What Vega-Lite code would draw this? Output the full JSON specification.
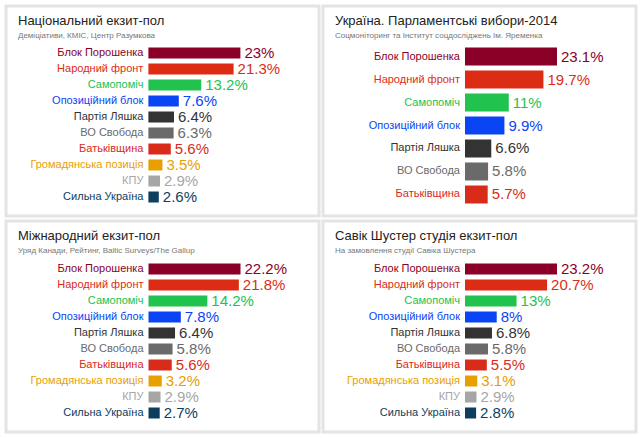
{
  "$schema": "https://vega.github.io/schema/vega-lite/v6.json",
  "background": "white",
  "padding": {"left": 4, "top": 4, "right": 0, "bottom": 0},
  "spacing": 1,
  "config": {
    "view": {"stroke": "#e4e4e4", "strokeWidth": 3},
    "font": "Liberation Sans",
    "title": {"anchor": "start", "frame": "group", "font": "Liberation Sans", "fontSize": 13, "fontWeight": "normal", "color": "#222222", "subtitleFont": "Liberation Sans", "subtitleFontSize": 8, "subtitleColor": "#777777", "subtitlePadding": 4, "offset": -34, "dx": 12}
  },
  "datasets": {
    "nat": [
      {"party": "Блок Порошенка", "share": 0.23},
      {"party": "Народний фронт", "share": 0.213},
      {"party": "Самопоміч", "share": 0.132},
      {"party": "Опозиційний блок", "share": 0.076},
      {"party": "Партія Ляшка", "share": 0.064},
      {"party": "ВО Свобода", "share": 0.063},
      {"party": "Батьківщина", "share": 0.056},
      {"party": "Громадянська позиція", "share": 0.035},
      {"party": "КПУ", "share": 0.029},
      {"party": "Сильна Україна", "share": 0.026}
    ],
    "ua": [
      {"party": "Блок Порошенка", "share": 0.231},
      {"party": "Народний фронт", "share": 0.197},
      {"party": "Самопоміч", "share": 0.11},
      {"party": "Опозиційний блок", "share": 0.099},
      {"party": "Партія Ляшка", "share": 0.066},
      {"party": "ВО Свобода", "share": 0.058},
      {"party": "Батьківщина", "share": 0.057}
    ],
    "intl": [
      {"party": "Блок Порошенка", "share": 0.222},
      {"party": "Народний фронт", "share": 0.218},
      {"party": "Самопоміч", "share": 0.142},
      {"party": "Опозиційний блок", "share": 0.078},
      {"party": "Партія Ляшка", "share": 0.064},
      {"party": "ВО Свобода", "share": 0.058},
      {"party": "Батьківщина", "share": 0.056},
      {"party": "Громадянська позиція", "share": 0.032},
      {"party": "КПУ", "share": 0.029},
      {"party": "Сильна Україна", "share": 0.027}
    ],
    "shuster": [
      {"party": "Блок Порошенка", "share": 0.232},
      {"party": "Народний фронт", "share": 0.207},
      {"party": "Самопоміч", "share": 0.13},
      {"party": "Опозиційний блок", "share": 0.08},
      {"party": "Партія Ляшка", "share": 0.068},
      {"party": "ВО Свобода", "share": 0.058},
      {"party": "Батьківщина", "share": 0.055},
      {"party": "Громадянська позиція", "share": 0.031},
      {"party": "КПУ", "share": 0.029},
      {"party": "Сильна Україна", "share": 0.028}
    ]
  },
  "vconcat": [
    {
      "hconcat": [
        {
          "width": 313,
          "height": 210,
          "title": {"text": "Національний екзит-пол", "subtitle": "Деміціативи, КМІС, Центр Разумкова"},
          "data": {"name": "nat"},
          "encoding": {
            "y": {"field": "party", "type": "nominal", "sort": null, "axis": null, "scale": {"range": [41.5, 196.5], "paddingInner": 0.3125, "paddingOuter": 0}},
            "color": {"field": "party", "type": "nominal", "legend": null, "scale": {"domain": ["Блок Порошенка", "Народний фронт", "Самопоміч", "Опозиційний блок", "Партія Ляшка", "ВО Свобода", "Батьківщина", "Громадянська позиція", "КПУ", "Сильна Україна"], "range": ["#8b0026", "#dc2d14", "#22c24e", "#0a45f5", "#333333", "#6a6a6a", "#d92b1a", "#e8a000", "#a6a6a6", "#0d3e5e"]}}
          },
          "layer": [
            {"mark": {"type": "bar"}, "encoding": {"x": {"field": "share", "type": "quantitative", "axis": null, "scale": {"domain": [-0.356, 0.4265], "nice": false, "zero": false}}, "x2": {"datum": 0}}},
            {"mark": {"type": "text", "align": "left", "baseline": "middle", "dx": 4, "fontSize": 15}, "encoding": {"x": {"field": "share", "type": "quantitative"}, "text": {"field": "share", "type": "quantitative", "format": "~%"}}},
            {"mark": {"type": "text", "align": "right", "baseline": "middle", "dx": -5, "fontSize": 11}, "encoding": {"x": {"datum": 0}, "text": {"field": "party"}}}
          ]
        },
        {
          "width": 313,
          "height": 210,
          "title": {"text": "Україна. Парламентські вибори-2014", "subtitle": "Соцмоніторинг та Інститут соцдосліджень Ім. Яременка"},
          "data": {"name": "ua"},
          "encoding": {
            "y": {"field": "party", "type": "nominal", "sort": null, "axis": null, "scale": {"range": [41.5, 197.5], "paddingInner": 0.217, "paddingOuter": 0}},
            "color": {"field": "party", "type": "nominal", "legend": null, "scale": {"domain": ["Блок Порошенка", "Народний фронт", "Самопоміч", "Опозиційний блок", "Партія Ляшка", "ВО Свобода", "Батьківщина", "Громадянська позиція", "КПУ", "Сильна Україна"], "range": ["#8b0026", "#dc2d14", "#22c24e", "#0a45f5", "#333333", "#6a6a6a", "#d92b1a", "#e8a000", "#a6a6a6", "#0d3e5e"]}}
          },
          "layer": [
            {"mark": {"type": "bar"}, "encoding": {"x": {"field": "share", "type": "quantitative", "axis": null, "scale": {"domain": [-0.3565, 0.4294], "nice": false, "zero": false}}, "x2": {"datum": 0}}},
            {"mark": {"type": "text", "align": "left", "baseline": "middle", "dx": 4, "fontSize": 15}, "encoding": {"x": {"field": "share", "type": "quantitative"}, "text": {"field": "share", "type": "quantitative", "format": "~%"}}},
            {"mark": {"type": "text", "align": "right", "baseline": "middle", "dx": -5, "fontSize": 11}, "encoding": {"x": {"datum": 0}, "text": {"field": "party"}}}
          ]
        }
      ],
      "spacing": 0
    },
    {
      "hconcat": [
        {
          "width": 313,
          "height": 211,
          "title": {"text": "Міжнародний екзит-пол", "subtitle": "Уряд Канади, Рейтинг, Baltic Surveys/The Gallup"},
          "data": {"name": "intl"},
          "encoding": {
            "y": {"field": "party", "type": "nominal", "sort": null, "axis": null, "scale": {"range": [42.5, 197.5], "paddingInner": 0.3125, "paddingOuter": 0}},
            "color": {"field": "party", "type": "nominal", "legend": null, "scale": {"domain": ["Блок Порошенка", "Народний фронт", "Самопоміч", "Опозиційний блок", "Партія Ляшка", "ВО Свобода", "Батьківщина", "Громадянська позиція", "КПУ", "Сильна Україна"], "range": ["#8b0026", "#dc2d14", "#22c24e", "#0a45f5", "#333333", "#6a6a6a", "#d92b1a", "#e8a000", "#a6a6a6", "#0d3e5e"]}}
          },
          "layer": [
            {"mark": {"type": "bar"}, "encoding": {"x": {"field": "share", "type": "quantitative", "axis": null, "scale": {"domain": [-0.3439, 0.4114], "nice": false, "zero": false}}, "x2": {"datum": 0}}},
            {"mark": {"type": "text", "align": "left", "baseline": "middle", "dx": 4, "fontSize": 15}, "encoding": {"x": {"field": "share", "type": "quantitative"}, "text": {"field": "share", "type": "quantitative", "format": "~%"}}},
            {"mark": {"type": "text", "align": "right", "baseline": "middle", "dx": -5, "fontSize": 11}, "encoding": {"x": {"datum": 0}, "text": {"field": "party"}}}
          ]
        },
        {
          "width": 313,
          "height": 211,
          "title": {"text": "Савік Шустер студія екзит-пол", "subtitle": "На замовлення студії Савіка Шустера"},
          "data": {"name": "shuster"},
          "encoding": {
            "y": {"field": "party", "type": "nominal", "sort": null, "axis": null, "scale": {"range": [42.5, 197.5], "paddingInner": 0.3125, "paddingOuter": 0}},
            "color": {"field": "party", "type": "nominal", "legend": null, "scale": {"domain": ["Блок Порошенка", "Народний фронт", "Самопоміч", "Опозиційний блок", "Партія Ляшка", "ВО Свобода", "Батьківщина", "Громадянська позиція", "КПУ", "Сильна Україна"], "range": ["#8b0026", "#dc2d14", "#22c24e", "#0a45f5", "#333333", "#6a6a6a", "#d92b1a", "#e8a000", "#a6a6a6", "#0d3e5e"]}}
          },
          "layer": [
            {"mark": {"type": "bar"}, "encoding": {"x": {"field": "share", "type": "quantitative", "axis": null, "scale": {"domain": [-0.3581, 0.4312], "nice": false, "zero": false}}, "x2": {"datum": 0}}},
            {"mark": {"type": "text", "align": "left", "baseline": "middle", "dx": 4, "fontSize": 15}, "encoding": {"x": {"field": "share", "type": "quantitative"}, "text": {"field": "share", "type": "quantitative", "format": "~%"}}},
            {"mark": {"type": "text", "align": "right", "baseline": "middle", "dx": -5, "fontSize": 11}, "encoding": {"x": {"datum": 0}, "text": {"field": "party"}}}
          ]
        }
      ],
      "spacing": 0
    }
  ]
}
